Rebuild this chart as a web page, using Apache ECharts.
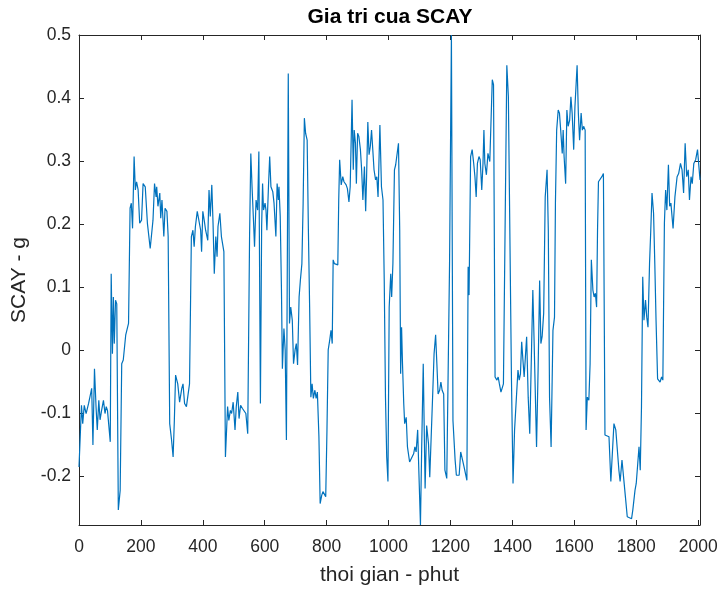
<!DOCTYPE html>
<html>
<head>
<meta charset="utf-8">
<title>Gia tri cua SCAY</title>
<script src="https://cdn.jsdelivr.net/npm/echarts@6/dist/echarts.min.js"></script>
<style>
  html, body { margin: 0; padding: 0; background: #ffffff; }
  #chart { width: 722px; height: 592px; }
</style>
</head>
<body>
<div id="chart"></div>
<script>
// Sample times (minutes)
const timeMinutes = [
  0, 8, 12, 17, 23, 31, 36, 41, 45, 50, 55, 59, 64, 68, 73, 79, 84, 88, 92, 101,
  104, 108, 111, 114, 118, 122, 127, 133, 138, 143, 151, 156, 160, 165, 169, 173, 178, 182, 186, 191,
  196, 202, 207, 214, 221, 230, 239, 244, 249, 251, 255, 261, 264, 268, 274, 278, 284, 288, 293, 299,
  304, 308, 312, 319, 325, 332, 336, 341, 347, 353, 357, 363, 368, 372, 376, 382, 387, 393, 396, 400,
  405, 409, 416, 420, 424, 429, 433, 437, 442, 446, 449, 455, 460, 468, 473, 480, 484, 489, 493, 498,
  504, 508, 513, 517, 522, 528, 533, 539, 545, 551, 555, 559, 564, 567, 572, 577, 581, 586, 590, 593,
  596, 601, 604, 607, 612, 616, 620, 626, 630, 636, 640, 644, 646, 650, 654, 657, 662, 666, 670, 676,
  680, 684, 689, 693, 698, 702, 706, 711, 715, 720, 724, 728, 732, 737, 741, 745, 749, 753, 757, 762,
  766, 770, 775, 779, 784, 788, 792, 797, 801, 805, 810, 814, 818, 821, 825, 829, 836, 839, 842, 847,
  852, 856, 863, 867, 872, 876, 882, 886, 889, 893, 896, 900, 904, 909, 913, 917, 922, 926, 929, 933,
  937, 941, 945, 949, 953, 958, 962, 966, 972, 977, 982, 986, 990, 994, 998, 1002, 1007, 1010, 1014, 1019,
  1023, 1027, 1032, 1036, 1039, 1042, 1045, 1049, 1052, 1057, 1061, 1068, 1074, 1081, 1085, 1089, 1094, 1098, 1103, 1107,
  1112, 1118, 1123, 1129, 1133, 1137, 1143, 1147, 1152, 1156, 1160, 1165, 1169, 1173, 1178, 1182, 1188, 1197, 1203, 1208,
  1215, 1219, 1228, 1233, 1239, 1244, 1248, 1253, 1257, 1260, 1265, 1270, 1275, 1279, 1283, 1287, 1292, 1296, 1301, 1305,
  1308, 1311, 1316, 1321, 1327, 1331, 1335, 1339, 1344, 1350, 1354, 1358, 1363, 1367, 1371, 1377, 1382, 1387, 1392, 1397,
  1402, 1407, 1413, 1418, 1422, 1426, 1430, 1434, 1438, 1442, 1446, 1451, 1456, 1462, 1466, 1470, 1475, 1478, 1483, 1488,
  1492, 1496, 1501, 1506, 1512, 1516, 1520, 1525, 1531, 1536, 1539, 1543, 1548, 1552, 1556, 1561, 1564, 1567, 1572, 1576,
  1580, 1585, 1589, 1593, 1598, 1602, 1609, 1613, 1617, 1622, 1626, 1630, 1635, 1638, 1642, 1647, 1651, 1655, 1660, 1664,
  1668, 1672, 1675, 1678, 1684, 1689, 1694, 1699, 1705, 1712, 1718, 1723, 1728, 1734, 1739, 1744, 1748, 1754, 1759, 1765,
  1771, 1776, 1785, 1789, 1796, 1800, 1805, 1809, 1813, 1817, 1821, 1825, 1830, 1834, 1838, 1843, 1847, 1851, 1856, 1860,
  1864, 1869, 1873, 1877, 1882, 1886, 1891, 1895, 1899, 1904, 1908, 1912, 1919, 1925, 1932, 1937, 1943, 1948, 1953, 1958,
  1963, 1968, 1972, 1977, 1981, 1986, 1992, 1998, 2006
];

// SCAY acceleration (g) at each sample time
const scayValues = [
  -0.186, -0.088, -0.117, -0.088, -0.101, -0.085, -0.083, -0.061, -0.151, -0.03, -0.09, -0.127, -0.08, -0.111, -0.096, -0.08, -0.101, -0.09, -0.096, -0.146,
  0.121, -0.006, 0.084, 0.01, 0.079, 0.073, -0.254, -0.223, -0.022, -0.016, 0.024, 0.026, 0.042, 0.225, 0.233, 0.193, 0.307, 0.254, 0.267, 0.254,
  0.201, 0.206, 0.264, 0.259, 0.201, 0.161, 0.206, 0.264, 0.243, 0.259, 0.228, 0.249, 0.209, 0.238, 0.18, 0.225, 0.22, 0.18, -0.117, -0.143,
  -0.17, -0.112, -0.04, -0.054, -0.083, -0.061, -0.054, -0.085, -0.09, -0.088, -0.054, 0.18, 0.19, 0.164, 0.196, 0.22, 0.22, 0.19, 0.156, 0.22,
  0.204, 0.19, 0.174, 0.254, 0.212, 0.262, 0.201, 0.121, 0.18, 0.148, 0.196, 0.217, 0.18, 0.156, -0.17, -0.09, -0.112, -0.096, -0.101, -0.083,
  -0.127, -0.09, -0.067, -0.109, -0.088, -0.093, -0.09, -0.101, -0.133, 0.18, 0.312, 0.259, 0.201, 0.164, 0.238, 0.222, 0.315, -0.085, 0.196, 0.264,
  0.222, 0.233, 0.222, 0.19, 0.259, 0.307, 0.259, 0.251, 0.233, 0.18, 0.264, 0.238, 0.259, 0.212, 0.095, -0.03, 0.034, 0, -0.143, 0.439,
  0.042, 0.068, 0.047, -0.022, 0, 0.01, -0.024, 0.084, 0.11, 0.137, 0.233, 0.368, 0.344, 0.333, 0.19, 0.068, -0.075, -0.054, -0.077, -0.064,
  -0.077, -0.067, -0.138, -0.244, -0.231, -0.225, -0.225, -0.233, -0.127, 0, 0.016, 0.031, 0.01, 0.143, 0.137, 0.137, 0.135, 0.238, 0.302, 0.262,
  0.275, 0.267, 0.262, 0.256, 0.235, 0.259, 0.397, 0.286, 0.349, 0.328, 0.264, 0.344, 0.339, 0.318, 0.286, 0.238, 0.291, 0.22, 0.275, 0.362,
  0.31, 0.323, 0.349, 0.318, 0.286, 0.27, 0.275, 0.243, 0.357, 0.259, 0.238, 0.11, -0.075, -0.17, -0.209, 0.068, 0.121, 0.084, 0.137, 0.286,
  0.294, 0.291, 0.328, 0.19, -0.038, 0.036, -0.022, -0.085, -0.117, -0.107, -0.154, -0.178, -0.175, -0.165, -0.154, -0.162, -0.127, -0.196, -0.278, -0.154,
  -0.022, -0.22, -0.12, -0.149, -0.202, -0.202, -0.064, -0.006, 0.024, -0.022, -0.07, -0.064, -0.051, -0.064, -0.07, -0.191, -0.204, 0.137, 0.5, -0.112,
  -0.175, -0.199, -0.199, -0.162, -0.175, -0.186, -0.186, -0.207, 0.132, 0.087, 0.307, 0.318, 0.296, 0.275, 0.243, 0.296, 0.307, 0.302, 0.254, 0.296,
  0.349, 0.296, 0.278, 0.312, 0.299, 0.296, 0.429, 0.421, -0.043, -0.048, -0.043, -0.054, -0.067, -0.07, -0.054, -0.051, 0.452, 0.402, 0.399, -0.048,
  -0.212, -0.127, -0.075, -0.032, -0.048, -0.038, 0.013, -0.016, -0.043, -0.011, 0.021, -0.075, -0.133, 0.005, 0.095, 0.016, -0.09, -0.154, -0.032, 0.11,
  0.01, 0.021, 0.058, 0.243, 0.286, 0.19, -0.075, -0.154, 0.031, 0.052, 0.233, 0.349, 0.381, 0.376, 0.349, 0.312, 0.349, 0.307, 0.264, 0.381,
  0.355, 0.365, 0.402, 0.376, 0.318, 0.386, 0.452, 0.376, 0.333, 0.376, 0.349, 0.355, 0.349, -0.127, -0.075, -0.08, -0.022, 0.143, 0.095, 0.084,
  0.09, 0.068, 0.19, 0.267, 0.264, 0.275, 0.28, -0.135, -0.135, -0.138, -0.209, -0.207, -0.117, -0.127, -0.159, -0.191, -0.209, -0.175, -0.175, -0.233,
  -0.265, -0.268, -0.268, -0.254, -0.223, -0.212, -0.18, -0.154, -0.191, -0.09, 0.116, 0.047, 0.079, 0.052, 0.036, 0.137, 0.19, 0.249, 0.217, 0.137,
  0.047, -0.046, -0.048, -0.051, -0.043, -0.048, 0.201, 0.254, 0.222, 0.294, 0.228, 0.233, 0.193, 0.243, 0.275, 0.28, 0.296, 0.286, 0.249, 0.328,
  0.275, 0.286, 0.238, 0.275, 0.264, 0.296, 0.302, 0.318, 0.27
];

// Axis ranges and tick spacing
const xRange = [0, 2006];
const xTickStep = 200;
const yRange = [-0.278, 0.5];
const yTickStep = 0.1;

const axisColor = '#262626';
const fontFamily = '"Liberation Sans", Arial, Helvetica, sans-serif';

const seriesData = timeMinutes.map((t, i) => [t, scayValues[i]]);

const lineStyle = { color: axisColor, width: 1 };

// Plain numbers on the ticks (no thousands separators)
const plainNumber = (v) => String(Math.round(v * 1000) / 1000);

function xAxisDef(position, withLabels) {
  return {
    type: 'value',
    position: position,
    min: xRange[0],
    max: xRange[1],
    interval: xTickStep,
    axisLine: { show: true, onZero: false, lineStyle: lineStyle },
    axisTick: { show: true, inside: true, length: 5, lineStyle: lineStyle },
    axisLabel: {
      show: withLabels, color: axisColor, fontSize: 17.5, fontFamily: fontFamily,
      margin: 13, showMaxLabel: false, formatter: plainNumber
    },
    splitLine: { show: false },
    name: withLabels ? 'thoi gian - phut' : '',
    nameLocation: 'middle',
    nameGap: 40,
    nameTextStyle: { color: axisColor, fontSize: 21, fontFamily: fontFamily }
  };
}

function yAxisDef(position, withLabels) {
  return {
    type: 'value',
    position: position,
    min: yRange[0],
    max: yRange[1],
    splitNumber: 8,
    minInterval: yTickStep,
    maxInterval: yTickStep,
    axisLine: { show: true, onZero: false, lineStyle: lineStyle },
    axisTick: { show: true, inside: true, length: 5, lineStyle: lineStyle },
    axisLabel: {
      show: withLabels, color: axisColor, fontSize: 17.5, fontFamily: fontFamily,
      margin: 8, showMinLabel: false, formatter: plainNumber
    },
    splitLine: { show: false },
    name: withLabels ? 'SCAY - g' : '',
    nameLocation: 'middle',
    nameRotate: 90,
    nameGap: 46,
    nameTextStyle: { color: axisColor, fontSize: 21, fontFamily: fontFamily }
  };
}

const chart = echarts.init(document.getElementById('chart'), null, { renderer: 'canvas' });

chart.setOption({
  animation: false,
  backgroundColor: '#ffffff',
  grid: { left: 79, right: 22, top: 35, bottom: 67, containLabel: false },
  graphic: [{
    type: 'text',
    x: 390,
    y: 17,
    style: {
      text: 'Gia tri cua SCAY',
      fill: '#000000',
      font: 'bold 21px ' + fontFamily,
      align: 'center',
      verticalAlign: 'middle'
    }
  }],
  xAxis: [xAxisDef('bottom', true), xAxisDef('top', false)],
  yAxis: [yAxisDef('left', true), yAxisDef('right', false)],
  series: [{
    name: 'SCAY',
    type: 'line',
    xAxisIndex: 0,
    yAxisIndex: 0,
    data: seriesData,
    showSymbol: false,
    symbol: 'none',
    smooth: false,
    lineStyle: { color: '#0072BD', width: 1.2 },
    emphasis: { disabled: true }
  }]
});
</script>
</body>
</html>
